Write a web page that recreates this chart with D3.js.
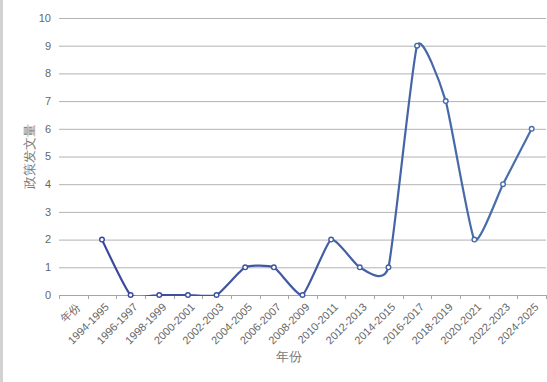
<!DOCTYPE html>
<html>
<head>
<meta charset="utf-8">
<script src="https://cdn.jsdelivr.net/npm/d3@7"></script>
<style>
  body { margin: 0; background: #fff; }
  svg { display: block; font-family: "Liberation Sans", Arial, sans-serif; }
</style>
</head>
<body>
<div id="chart"></div>
<script>
// categories on the x axis (first one is a stray header cell)
var periods = ["年份", "1994-1995", "1996-1997", "1998-1999", "2000-2001", "2002-2003",
  "2004-2005", "2006-2007", "2008-2009", "2010-2011", "2012-2013", "2014-2015",
  "2016-2017", "2018-2019", "2020-2021", "2022-2023", "2024-2025"];
// number of policy documents per period
var counts = [null, 2, 0, 0, 0, 0, 1, 1, 0, 2, 1, 1, 9, 7, 2, 4, 6];
var yTicks = [0, 1, 2, 3, 4, 5, 6, 7, 8, 9, 10];

var W = 547, H = 382;
var margin = { top: 18, right: 1, bottom: 87, left: 59 };
var width = W - margin.left - margin.right,
    height = H - margin.top - margin.bottom;

var svg = d3.select("#chart").append("svg")
  .attr("width", W)
  .attr("height", H);

// left border strip
svg.append("rect").attr("x", 0).attr("y", 0).attr("width", 3).attr("height", H).attr("fill", "#d2d2d2");

var defs = svg.append("defs");
var grad = defs.append("linearGradient")
  .attr("id", "lineGrad")
  .attr("gradientUnits", "userSpaceOnUse")
  .attr("x1", 0).attr("y1", 0).attr("x2", width).attr("y2", 0);
grad.append("stop").attr("offset", "0%").attr("stop-color", "#39449a");
grad.append("stop").attr("offset", "100%").attr("stop-color", "#4a72ac");

defs.append("clipPath").attr("id", "plotClip")
  .append("rect").attr("x", 0).attr("y", -10).attr("width", width).attr("height", height + 11);

var g = svg.append("g").attr("transform", "translate(" + margin.left + "," + margin.top + ")");

var x = d3.scaleBand().domain(periods).range([0, width]);
var y = d3.scaleLinear().domain([0, 10]).range([height, 0]);

// gridlines
g.selectAll(".grid").data(yTicks).enter().append("line")
  .attr("x1", 0).attr("x2", width)
  .attr("y1", function (d) { return y(d) + 0.5 }).attr("y2", function (d) { return y(d) + 0.5 })
  .attr("stroke", "#b3b3b3").attr("stroke-width", 1);

// y tick labels
g.selectAll(".ylab").data(yTicks).enter().append("text")
  .attr("x", -8).attr("y", function (d) { return y(d) })
  .attr("dy", "0.35em")
  .attr("text-anchor", "end")
  .attr("font-size", 11)
  .attr("fill", "#666")
  .text(function (d) { return d });

// x axis line and ticks between categories
g.append("line").attr("x1", 0).attr("x2", width)
  .attr("y1", height + 0.5).attr("y2", height + 0.5)
  .attr("stroke", "#a6a6a6");
var bounds = periods.map(function (p) { return x(p) }).concat([width]);
g.selectAll(".xtick").data(bounds).enter().append("line")
  .attr("x1", function (d) { return Math.round(d) + 0.5 }).attr("x2", function (d) { return Math.round(d) + 0.5 })
  .attr("y1", height).attr("y2", height + 4)
  .attr("stroke", "#a6a6a6");

// x tick labels, rotated
g.selectAll(".xlab").data(periods).enter().append("text")
  .attr("transform", function (d) {
    return "translate(" + (x(d) + x.bandwidth() / 2 + 5) + "," + (height + 10) + ") rotate(-45)";
  })
  .attr("text-anchor", "end")
  .attr("dy", "0.35em")
  .attr("font-size", 11)
  .attr("fill", "#666")
  .text(function (d) { return d });

// axis titles
svg.append("text")
  .attr("x", margin.left + width / 2 - 14).attr("y", 361)
  .attr("text-anchor", "middle")
  .attr("font-size", 13)
  .attr("fill", "#7a7a7a")
  .text("年份");
svg.append("text")
  .attr("transform", "translate(34," + (margin.top + height / 2) + ") rotate(-90)")
  .attr("text-anchor", "middle")
  .attr("font-size", 13)
  .attr("fill", "#7a7a7a")
  .text("政策发文量");

// smoothed line
var pts = periods.map(function (p, i) { return { p: p, v: counts[i] } });
var line = d3.line()
  .defined(function (d) { return d.v != null })
  .x(function (d) { return x(d.p) + x.bandwidth() / 2 })
  .y(function (d) { return y(d.v) })
  .curve(d3.curveCardinal.tension(0.5));

g.append("path")
  .datum(pts)
  .attr("clip-path", "url(#plotClip)")
  .attr("fill", "none")
  .attr("stroke", "url(#lineGrad)")
  .attr("stroke-width", 2.2)
  .attr("d", line);

// markers
g.selectAll(".dot").data(pts.filter(function (d) { return d.v != null })).enter().append("circle")
  .attr("cx", function (d) { return x(d.p) + x.bandwidth() / 2 })
  .attr("cy", function (d) { return y(d.v) })
  .attr("r", 2.3)
  .attr("fill", "#fff")
  .attr("stroke", function (d) { return d3.interpolateRgb("#39449a", "#4a72ac")((x(d.p)) / width) })
  .attr("stroke-width", 1.4);
</script>
</body>
</html>
